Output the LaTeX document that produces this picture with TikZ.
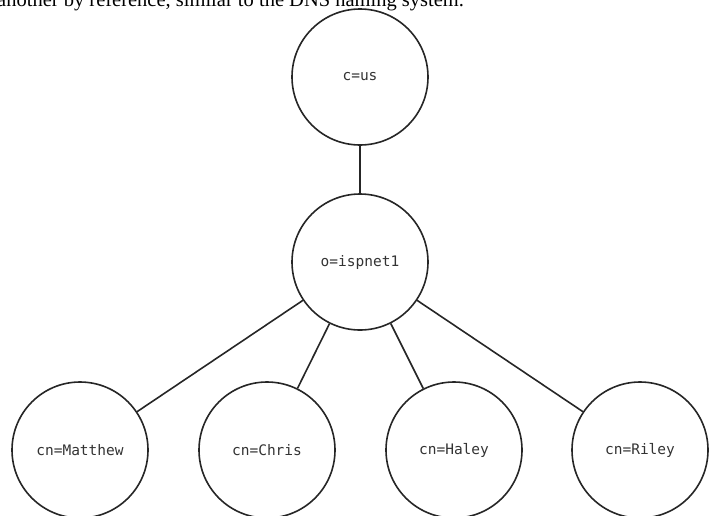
\documentclass[tikz,border=0pt]{standalone}
\usepackage{fontspec}
\setmainfont{Liberation Serif}
\newfontfamily\labelfont{DejaVu Sans Mono}
\begin{document}
\begin{tikzpicture}[x=1pt,y=-1pt,
  entry/.style={draw=black!85, line width=1.6pt, circle, minimum size=136pt, inner sep=0pt,
    font=\labelfont\fontsize{14.5}{16}\selectfont, text=black!80},
  link/.style={draw=black!85, line width=1.6pt}]
\useasboundingbox (0,0) rectangle (709,515);
\clip (0,0) rectangle (709,515);
\node[anchor=base west, inner sep=0pt, font=\fontsize{20.5}{24}\selectfont] (caption) at (-3,6.5) {another by reference, similar to the DNS naming system.};
\node[entry] (us) at (360,77) {c=us};
\node[entry] (isp) at (360,262) {o=ispnet1};
\node[entry] (matthew) at (80,450) {cn=Matthew};
\node[entry] (chris) at (267,450) {cn=Chris};
\node[entry] (haley) at (454,450) {cn=Haley};
\node[entry] (riley) at (640,450) {cn=Riley};
\draw[link] (us) -- (isp);
\draw[link] (isp) -- (matthew);
\draw[link] (isp) -- (chris);
\draw[link] (isp) -- (haley);
\draw[link] (isp) -- (riley);
\end{tikzpicture}
\end{document}
